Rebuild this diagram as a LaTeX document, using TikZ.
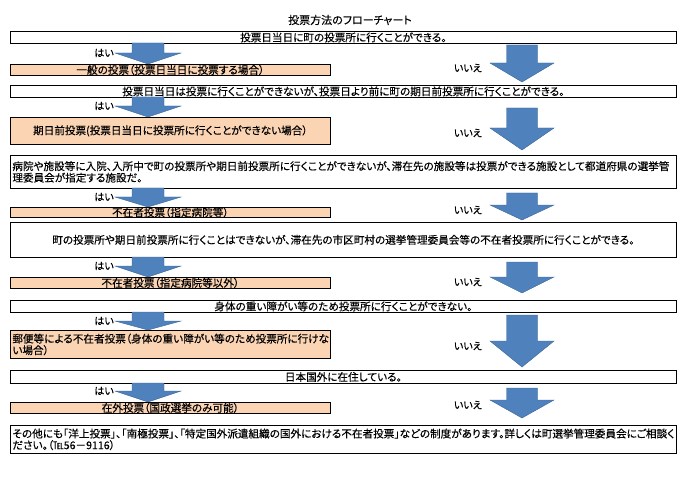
\documentclass[tikz,border=0pt]{standalone}
\usepackage{fontspec}
\setmainfont{Noto Sans CJK JP}[RawFeature=+palt, FakeBold=0.3]
\definecolor{orfill}{RGB}{251,212,180}
\definecolor{arfill}{RGB}{79,129,189}
\definecolor{ardraw}{RGB}{58,101,151}
\tikzset{
  wbox/.style={draw=black, line width=0.8pt, fill=white, inner sep=0pt, minimum width=666pt, anchor=north west, font=\fontsize{10.6}{11.5}\selectfont},
  obox/.style={draw=black, line width=0.8pt, fill=orfill, inner sep=0pt, minimum width=320pt, anchor=north west, font=\fontsize{10.6}{11.5}\selectfont},
  lbox/.style={text width=662pt, align=left, inner xsep=2pt},
  lobox/.style={text width=316pt, align=left, inner xsep=2pt},
  arrowsty/.style={fill=arfill, draw=ardraw, line width=0.4pt},
  lab/.style={font=\fontsize{10}{10}\selectfont, inner sep=0pt, anchor=east}
}
% #1 centre x, #2 stem half, #3 head half, #4 top, #5 head start, #6 tip
\newcommand\blockarr[6]{%
  \draw[arrowsty] ({#1-#2},#4) -- ({#1+#2},#4) -- ({#1+#2},#5) -- ({#1+#3},#5) -- (#1,#6) -- ({#1-#3},#5) -- ({#1-#2},#5) -- cycle;}
\newcommand\yesarr[3]{\blockarr{148}{16}{33}{#1}{#2}{#3}\node[lab] at (114,#2) {はい};}
\newcommand\noarr[3]{\blockarr{522}{15.5}{32}{#1}{#2}{#3}\node[lab] at (482,{#2+5}) {いいえ};}
\begin{document}
\begin{tikzpicture}[x=1pt,y=-1pt]
\useasboundingbox (0,0) rectangle (700,494);
\node[font=\fontsize{11}{12}\selectfont, inner sep=0pt] (title) at (350,20) {投票方法のフローチャート};
\node[wbox, minimum height=12pt] (w1) at (10,31) {投票日当日に町の投票所に行くことができる。};
\node[obox, minimum height=11pt] (o1) at (10,64) {一般の投票（投票日当日に投票する場合）};
\node[wbox, minimum height=12pt] (w2) at (10,85) {投票日当日は投票に行くことができないが、投票日より前に町の期日前投票所に行くことができる。};
\node[obox, minimum height=27pt] (o2) at (10,117) {期日前投票(投票日当日に投票所に行くことができない場合）};
\node[wbox, lbox, minimum height=33pt] (w3) at (10,155) {病院や施設等に入院、入所中で町の投票所や期日前投票所に行くことができないが、滞在先の施設等は投票ができる施設として都道府県の選挙管\\理委員会が指定する施設だ。};
\node[obox, minimum height=10pt] (o3) at (10,207) {不在者投票（指定病院等）};
\node[wbox, minimum height=35pt] (w4) at (10,222) {町の投票所や期日前投票所に行くことはできないが、滞在先の市区町村の選挙管理委員会等の不在者投票所に行くことができる。};
\node[obox, minimum height=11pt] (o4) at (10,277) {不在者投票（指定病院等以外）};
\node[wbox, minimum height=12pt] (w5) at (10,300) {身体の重い障がい等のため投票所に行くことができない。};
\node[obox, lobox, minimum height=28pt] (o5) at (10,330) {郵便等による不在者投票（身体の重い障がい等のため投票所に行けな\\い場合）};
\node[wbox, minimum height=13pt] (w6) at (10,370) {日本国外に在住している。};
\node[obox, minimum height=11pt] (o6) at (10,402) {在外投票（国政選挙のみ可能）};
\node[wbox, lbox, minimum height=28pt] (w7) at (10,425) {その他にも「洋上投票」、「南極投票」、「特定国外派遣組織の国外における不在者投票」などの制度があります。詳しくは町選挙管理委員会にご相談く\\ださい。（℡56－9116）};
\yesarr{43}{53}{64}
\yesarr{97}{106}{117}
\yesarr{188}{197}{207}
\yesarr{257}{266}{277}
\yesarr{312}{321}{330}
\yesarr{383}{391}{402}
\noarr{45}{63}{82}
\noarr{108}{128}{150}
\noarr{193}{205}{220}
\noarr{262}{277}{293}
\noarr{315}{341}{367}
\noarr{388}{400}{418}
\end{tikzpicture}
\end{document}
